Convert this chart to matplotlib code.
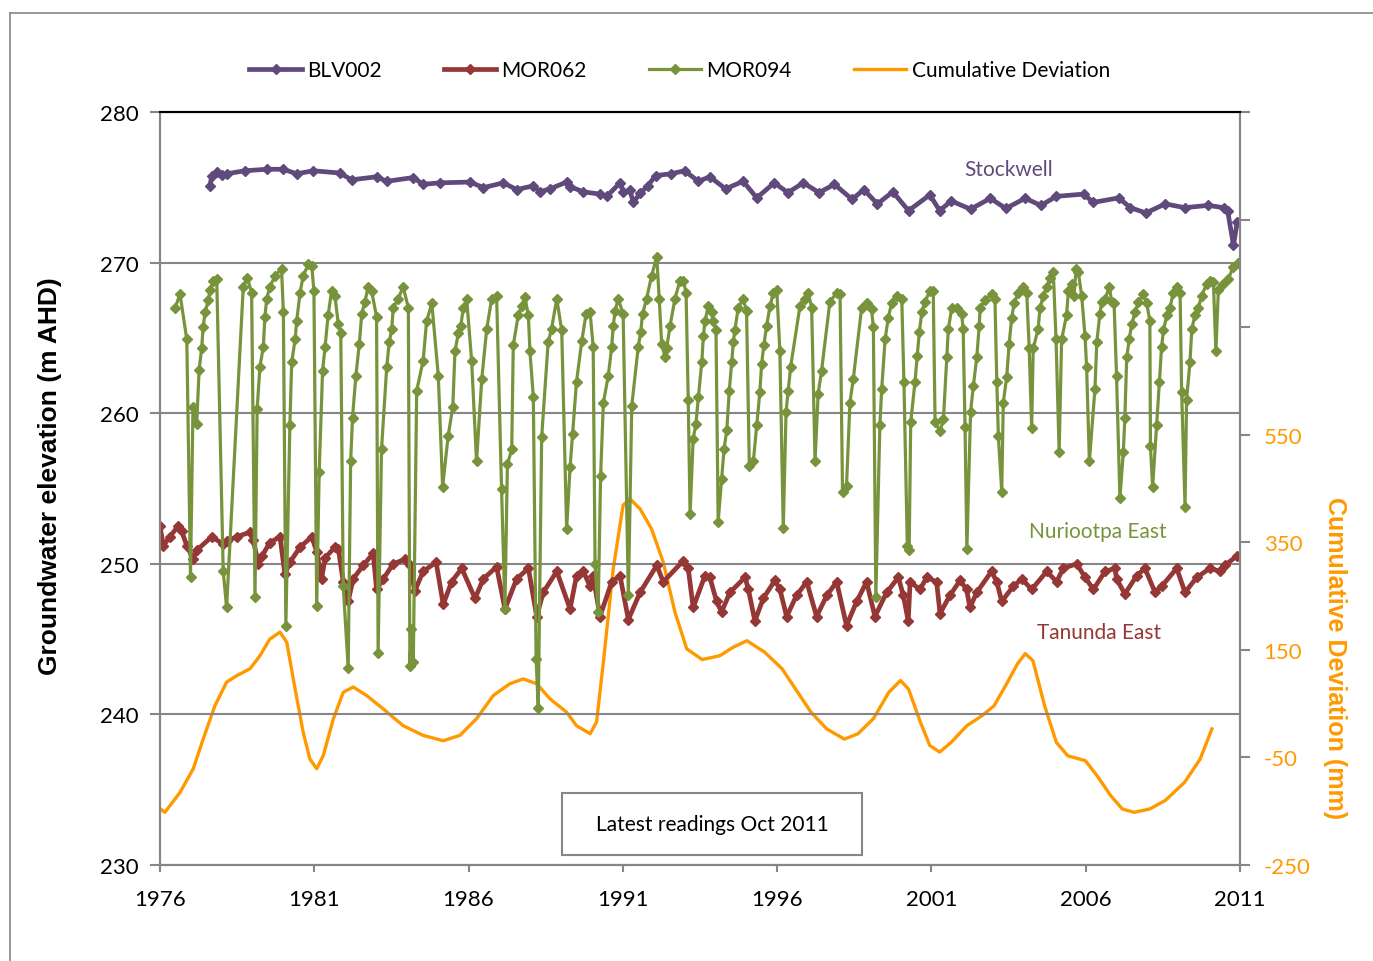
import matplotlib
matplotlib.use("Agg")
import matplotlib.pyplot as plt
from matplotlib.lines import Line2D
from matplotlib.patches import Rectangle

plt.rcParams['font.family'] = ['Lato', 'DejaVu Sans']

# BLV002 - Stockwell
blv_year = [1977.62, 1977.68, 1977.84, 1978.00, 1978.16, 1978.75, 1979.46, 1980.00, 1980.43, 1980.97,
            1981.83, 1982.21, 1983.02, 1983.35, 1984.21, 1984.53, 1985.07, 1986.05, 1986.48, 1987.13,
            1987.56, 1988.10, 1988.31, 1988.64, 1989.18, 1989.29, 1989.72, 1990.26, 1990.48, 1990.91,
            1991.02, 1991.23, 1991.34, 1991.56, 1991.81, 1992.06, 1992.56, 1993.00, 1993.45, 1993.82,
            1994.33, 1994.90, 1995.34, 1995.91, 1996.35, 1996.85, 1997.36, 1997.86, 1998.43, 1998.81,
            1999.25, 1999.75, 2000.26, 2000.95, 2001.27, 2001.64, 2002.27, 2002.91, 2003.41, 2004.04,
            2004.55, 2005.05, 2005.93, 2006.25, 2007.07, 2007.45, 2007.95, 2008.58, 2009.21, 2009.97,
            2010.47, 2010.60, 2010.79, 2010.91]
blv_level = [275.07, 275.78, 276.0, 275.8, 275.9, 276.1, 276.2, 276.2, 275.9, 276.1,
             275.95, 275.5, 275.7, 275.4, 275.65, 275.2, 275.3, 275.35, 274.98, 275.3,
             274.85, 275.1, 274.7, 274.9, 275.35, 275.05, 274.7, 274.55, 274.4, 275.3,
             274.7, 274.8, 274.0, 274.6, 275.1, 275.78, 275.9, 276.1, 275.4, 275.7,
             274.9, 275.4, 274.3, 275.3, 274.65, 275.3, 274.65, 275.2, 274.2, 274.85,
             273.9, 274.7, 273.45, 274.5, 273.45, 274.1, 273.55, 274.27, 273.6, 274.27,
             273.8, 274.4, 274.55, 274.0, 274.3, 273.65, 273.3, 273.9, 273.65, 273.8,
             273.65, 273.45, 271.15, 272.7]

# MOR062 - Tanunda East
mor062_year = [1976.00, 1976.11, 1976.32, 1976.59, 1976.70, 1976.87, 1977.08, 1977.19, 1977.68, 1978.05,
               1978.16, 1978.49, 1978.92, 1979.02, 1979.19, 1979.30, 1979.56, 1979.89, 1980.05, 1980.21,
               1980.54, 1980.92, 1981.08, 1981.24, 1981.35, 1981.67, 1981.78, 1981.94, 1982.10, 1982.26,
               1982.59, 1982.91, 1983.02, 1983.24, 1983.56, 1983.94, 1984.10, 1984.26, 1984.53, 1984.95,
               1985.18, 1985.45, 1985.78, 1986.21, 1986.48, 1986.91, 1987.18, 1987.56, 1987.94, 1988.21,
               1988.42, 1988.86, 1989.29, 1989.50, 1989.72, 1989.94, 1990.04, 1990.26, 1990.64, 1990.91,
               1991.18, 1991.56, 1992.10, 1992.31, 1992.96, 1993.12, 1993.28, 1993.66, 1993.82, 1994.04,
               1994.20, 1994.47, 1994.96, 1995.07, 1995.28, 1995.55, 1995.93, 1996.09, 1996.31, 1996.63,
               1996.96, 1997.28, 1997.61, 1997.93, 1998.25, 1998.58, 1998.90, 1999.17, 1999.55, 1999.93,
               2000.09, 2000.25, 2000.31, 2000.63, 2000.85, 2001.17, 2001.28, 2001.60, 2001.93, 2002.14,
               2002.25, 2002.47, 2002.95, 2003.12, 2003.28, 2003.65, 2003.93, 2004.25, 2004.74, 2005.06,
               2005.27, 2005.71, 2005.98, 2006.25, 2006.63, 2006.95, 2007.00, 2007.27, 2007.65, 2007.92,
               2008.25, 2008.46, 2008.95, 2009.22, 2009.60, 2010.03, 2010.35, 2010.51, 2010.89]
mor062_level = [252.5, 251.2, 251.8, 252.5, 252.2, 251.2, 250.3, 250.9, 251.8, 251.3,
                251.5, 251.8, 252.1, 251.6, 250.0, 250.5, 251.4, 251.8, 249.3, 250.1,
                251.1, 251.8, 250.8, 249.0, 250.4, 251.1, 251.0, 248.8, 247.5, 249.0,
                249.9, 250.7, 248.3, 249.0, 250.0, 250.3, 249.9, 248.2, 249.5, 250.1,
                247.3, 248.8, 249.7, 247.7, 249.0, 249.8, 247.0, 249.0, 249.7, 246.5,
                248.1, 249.5, 247.0, 249.2, 249.5, 248.5, 249.2, 246.5, 248.8, 249.2,
                246.3, 248.1, 249.9, 248.8, 250.2, 249.7, 247.1, 249.2, 249.1, 247.5,
                246.8, 248.1, 249.1, 248.3, 246.2, 247.7, 248.9, 248.3, 246.5, 247.9,
                248.8, 246.5, 247.9, 248.8, 245.9, 247.5, 248.8, 246.5, 248.1, 249.1,
                247.9, 246.2, 248.8, 248.3, 249.1, 248.8, 246.7, 247.9, 248.9, 248.3,
                247.1, 248.1, 249.5, 248.8, 247.5, 248.5, 249.0, 248.3, 249.5, 248.8,
                249.7, 250.0, 249.1, 248.3, 249.5, 249.7, 249.0, 248.0, 249.2, 249.7,
                248.1, 248.5, 249.7, 248.1, 249.1, 249.7, 249.5, 249.9, 250.5]

# MOR094 - Nuriootpa East
mor094_year = [1976.49, 1976.65, 1976.87, 1976.99, 1977.07, 1977.19, 1977.27, 1977.35, 1977.40, 1977.46,
               1977.57, 1977.62, 1977.73, 1977.84, 1978.05, 1978.16, 1978.70, 1978.83, 1978.97, 1979.08,
               1979.15, 1979.24, 1979.35, 1979.40, 1979.46, 1979.56, 1979.73, 1979.94, 1980.00, 1980.08,
               1980.21, 1980.27, 1980.38, 1980.43, 1980.54, 1980.64, 1980.81, 1980.92, 1980.99, 1981.08,
               1981.16, 1981.27, 1981.35, 1981.45, 1981.56, 1981.67, 1981.78, 1981.86, 1981.94, 1982.10,
               1982.18, 1982.24, 1982.35, 1982.46, 1982.54, 1982.64, 1982.75, 1982.86, 1983.02, 1983.07,
               1983.18, 1983.35, 1983.43, 1983.51, 1983.56, 1983.72, 1983.88, 1984.05, 1984.10, 1984.15,
               1984.21, 1984.32, 1984.53, 1984.64, 1984.81, 1985.02, 1985.16, 1985.34, 1985.49, 1985.56,
               1985.67, 1985.75, 1985.83, 1985.94, 1986.10, 1986.26, 1986.43, 1986.59, 1986.75, 1986.91,
               1987.07, 1987.18, 1987.26, 1987.40, 1987.45, 1987.61, 1987.72, 1987.83, 1987.94, 1987.99,
               1988.10, 1988.19, 1988.26, 1988.37, 1988.58, 1988.69, 1988.86, 1989.02, 1989.18, 1989.29,
               1989.37, 1989.50, 1989.67, 1989.81, 1989.94, 1990.04, 1990.10, 1990.20, 1990.28, 1990.37,
               1990.53, 1990.64, 1990.69, 1990.75, 1990.85, 1991.01, 1991.18, 1991.29, 1991.50, 1991.58,
               1991.64, 1991.77, 1991.93, 1992.10, 1992.18, 1992.26, 1992.37, 1992.42, 1992.53, 1992.69,
               1992.85, 1992.96, 1993.05, 1993.12, 1993.18, 1993.28, 1993.37, 1993.45, 1993.56, 1993.61,
               1993.66, 1993.77, 1993.88, 1993.93, 1994.02, 1994.09, 1994.20, 1994.28, 1994.37, 1994.45,
               1994.53, 1994.58, 1994.63, 1994.74, 1994.90, 1995.01, 1995.10, 1995.23, 1995.34, 1995.44,
               1995.50, 1995.57, 1995.66, 1995.77, 1995.88, 1995.99, 1996.09, 1996.20, 1996.29, 1996.36,
               1996.44, 1996.74, 1996.90, 1997.01, 1997.12, 1997.23, 1997.33, 1997.44, 1997.71, 1997.93,
               1998.04, 1998.12, 1998.25, 1998.36, 1998.47, 1998.74, 1998.90, 1999.06, 1999.12, 1999.20,
               1999.33, 1999.39, 1999.50, 1999.60, 1999.71, 1999.87, 2000.04, 2000.11, 2000.22, 2000.28,
               2000.33, 2000.47, 2000.54, 2000.61, 2000.69, 2000.79, 2000.95, 2001.06, 2001.12, 2001.28,
               2001.39, 2001.50, 2001.55, 2001.66, 2001.82, 2001.98, 2002.03, 2002.09, 2002.15, 2002.27,
               2002.36, 2002.47, 2002.55, 2002.58, 2002.74, 2002.95, 2003.06, 2003.12, 2003.17, 2003.28,
               2003.33, 2003.44, 2003.52, 2003.60, 2003.68, 2003.82, 2003.98, 2004.09, 2004.17, 2004.25,
               2004.30, 2004.46, 2004.52, 2004.63, 2004.74, 2004.84, 2004.95, 2005.04, 2005.14, 2005.22,
               2005.38, 2005.44, 2005.55, 2005.62, 2005.69, 2005.76, 2005.87, 2005.98, 2006.03, 2006.12,
               2006.30, 2006.36, 2006.46, 2006.52, 2006.63, 2006.77, 2006.84, 2006.92, 2007.00, 2007.11,
               2007.22, 2007.27, 2007.33, 2007.41, 2007.49, 2007.60, 2007.71, 2007.87, 2007.98, 2008.08,
               2008.10, 2008.17, 2008.30, 2008.39, 2008.46, 2008.52, 2008.63, 2008.73, 2008.84, 2008.95,
               2009.06, 2009.11, 2009.22, 2009.27, 2009.38, 2009.44, 2009.54, 2009.65, 2009.76, 2009.92,
               2010.03, 2010.14, 2010.22, 2010.30, 2010.46, 2010.62, 2010.78, 2010.95]
mor094_level = [267.0, 267.9, 264.9, 249.1, 260.4, 259.3, 262.9, 264.3, 265.7, 266.7,
                267.5, 268.2, 268.8, 268.9, 249.5, 247.1, 268.4, 269.0, 268.0, 247.8,
                260.3, 263.1, 264.4, 266.4, 267.6, 268.4, 269.1, 269.6, 266.7, 245.9,
                259.2, 263.4, 264.9, 266.1, 268.0, 269.1, 269.9, 269.8, 268.1, 247.2,
                256.1, 262.8, 264.4, 266.5, 268.1, 267.8, 265.9, 265.3, 248.5, 243.1,
                256.8, 259.7, 262.5, 264.6, 266.6, 267.4, 268.4, 268.1, 266.4, 244.1,
                257.6, 263.1, 264.7, 265.6, 267.0, 267.6, 268.4, 267.0, 243.2, 245.7,
                243.5, 261.5, 263.5, 266.1, 267.3, 262.5, 255.1, 258.5, 260.4, 264.1,
                265.3, 265.8, 267.0, 267.6, 263.5, 256.8, 262.3, 265.6, 267.6, 267.8,
                255.0, 247.0, 256.6, 257.6, 264.5, 266.5, 267.1, 267.7, 266.5, 264.1,
                261.1, 243.7, 240.4, 258.4, 264.7, 265.6, 267.6, 265.5, 252.3, 256.4,
                258.6, 262.1, 264.8, 266.6, 266.7, 264.4, 250.0, 246.8, 255.8, 260.7,
                262.5, 264.4, 265.8, 266.8, 267.6, 266.6, 247.9, 260.5, 264.4, 265.4,
                266.6, 267.6, 269.1, 270.4, 267.6, 264.6, 263.7, 264.3, 265.8, 267.6,
                268.8, 268.8, 268.0, 260.9, 253.3, 258.3, 259.3, 261.1, 263.4, 265.1,
                266.1, 267.1, 266.7, 266.1, 265.5, 252.8, 255.6, 257.6, 258.9, 261.5,
                263.4, 264.7, 265.5, 267.0, 267.6, 266.8, 256.5, 256.8, 259.2, 261.4,
                263.3, 264.5, 265.8, 267.1, 268.0, 268.2, 264.1, 252.4, 260.1, 261.5,
                263.1, 267.1, 267.6, 268.0, 267.0, 256.8, 261.3, 262.8, 267.4, 268.0,
                267.9, 254.8, 255.2, 260.7, 262.3, 267.0, 267.3, 266.9, 265.7, 247.8,
                259.2, 261.6, 264.9, 266.3, 267.3, 267.8, 267.6, 262.1, 251.2, 250.9,
                259.4, 262.1, 263.8, 265.4, 266.7, 267.4, 268.1, 268.1, 259.4, 258.8,
                259.6, 263.7, 265.6, 267.0, 267.0, 266.6, 265.6, 259.1, 251.0, 260.1,
                261.8, 263.7, 265.8, 267.0, 267.5, 267.9, 267.6, 262.1, 258.5, 254.8,
                260.7, 262.4, 264.6, 266.3, 267.3, 268.0, 268.4, 268.0, 264.3, 259.0,
                264.3, 265.6, 267.0, 267.8, 268.4, 269.0, 269.4, 264.9, 257.4, 264.9,
                266.5, 268.1, 268.6, 267.8, 269.6, 269.4, 267.8, 265.1, 263.1, 256.8,
                261.6, 264.7, 266.6, 267.4, 267.6, 268.4, 267.4, 267.3, 262.5, 254.4,
                257.4, 259.7, 263.7, 264.9, 265.9, 266.7, 267.4, 267.9, 267.3, 266.1,
                257.8, 255.1, 259.2, 262.1, 264.4, 265.5, 266.5, 267.0, 268.0, 268.4,
                268.0, 261.4, 253.8, 260.9, 263.4, 265.6, 266.5, 267.0, 267.8, 268.6,
                268.8, 268.7, 264.1, 268.2, 268.6, 268.9, 269.7, 270.0]

# Cumulative deviation from mean rainfall (mm)
cdev_year = [1976.00, 1976.16, 1976.65, 1977.08, 1977.40, 1977.78, 1978.16, 1978.49, 1978.92, 1979.24,
             1979.56, 1979.89, 1980.11, 1980.32, 1980.64, 1980.86, 1981.08, 1981.29, 1981.62, 1981.94,
             1982.26, 1982.70, 1983.24, 1983.88, 1984.53, 1985.18, 1985.72, 1986.26, 1986.80, 1987.34,
             1987.77, 1988.21, 1988.64, 1989.18, 1989.50, 1989.94, 1990.15, 1990.37, 1990.69, 1991.01,
             1991.23, 1991.56, 1991.93, 1992.31, 1992.69, 1993.07, 1993.57, 1994.14, 1994.58, 1995.02,
             1995.59, 1996.16, 1996.60, 1997.10, 1997.61, 1998.18, 1998.62, 1999.12, 1999.62, 2000.00,
             2000.26, 2000.64, 2000.95, 2001.27, 2001.64, 2002.15, 2002.65, 2003.03, 2003.41, 2003.79,
             2004.04, 2004.29, 2004.67, 2005.05, 2005.42, 2005.99, 2006.37, 2006.81, 2007.19, 2007.57,
             2008.07, 2008.58, 2009.21, 2009.71, 2010.09]
cdev_mm = [-145, -152, -115, -71, -16, 46, 90, 102, 115, 139,
           170, 183, 164, 96, -3, -53, -71, -47, 22, 71,
           81, 65, 40, 9, -9, -19, -9, 22, 65, 87,
           96, 87, 59, 34, 9, -6, 16, 127, 301, 419,
           431, 412, 375, 313, 220, 152, 132, 139, 155, 167,
           146, 115, 77, 34, 3, -16, -6, 22, 71, 93,
           77, 16, -28, -40, -22, 9, 28, 46, 84, 124,
           143, 130, 46, -22, -47, -56, -84, -121, -146, -152,
           -146, -130, -96, -53, 3]

year_ticks = [1976, 1981, 1986, 1991, 1996, 2001, 2006, 2011]
dev_ticks = [-250, -50, 150, 350, 550, 750, 950, 1150]
dev_labels = ['-250', '-50', '150', '350', '550', '', '', '']

purple = '#604A7B'
red = '#953735'
green = '#77933C'
orange = '#FF9900'
gray = '#868686'

fig = plt.figure(figsize=(13.73, 9.62), dpi=100)
ax = fig.add_axes([0.1165, 0.0998, 0.7866, 0.7827])
ax2 = ax.twinx()
ax.set_zorder(ax2.get_zorder() + 1)
ax.patch.set_visible(False)

l1, = ax.plot(blv_year, blv_level, color=purple, lw=3.4, marker='D', ms=5, label='BLV002')
l2, = ax.plot(mor062_year, mor062_level, color=red, lw=3.4, marker='D', ms=5, label='MOR062')
l3, = ax.plot(mor094_year, mor094_level, color=green, lw=2.3, marker='D', ms=5, label='MOR094')
l4, = ax2.plot(cdev_year, cdev_mm, color=orange, lw=2.4, label='Cumulative Deviation')

ax.set_xlim(1976, 2011)
ax.set_ylim(230, 280)
ax2.set_ylim(-250, 1150)
ax.set_xticks(year_ticks)
ax.set_yticks([230, 240, 250, 260, 270, 280])
ax2.set_yticks(dev_ticks)
ax2.set_yticklabels(dev_labels)

ax.grid(axis='y', color=gray, lw=1.5)
ax.set_axisbelow(True)
for a in (ax, ax2):
    for s in a.spines.values():
        s.set_color(gray)
        s.set_linewidth(1.5)
    a.spines['top'].set_color('black')

ax.tick_params(axis='both', labelsize=16, color=gray, width=1.5, length=7, pad=8)
ax.tick_params(axis='x', length=5, pad=12)
ax2.tick_params(axis='y', labelsize=16, colors=orange, width=1.5, length=7, pad=10)
ax2.tick_params(axis='y', color=gray)

label_font = ['Liberation Sans', 'DejaVu Sans']
ax.set_ylabel('Groundwater elevation (m AHD)', fontsize=19, fontweight='bold', family=label_font)
ax.yaxis.set_label_coords(-0.091, 0.518)
ax2.set_ylabel('Cumulative Deviation (mm)', fontsize=18, fontweight='bold', color=orange,
               rotation=270, family=label_font)
ax2.yaxis.set_label_coords(1.099, 0.276)

ax.text(2003.5, 276.2, 'Stockwell', color=purple, fontsize=15, ha='center', va='center')
ax.text(2006.4, 252.2, 'Nuriootpa East', color=green, fontsize=15, ha='center', va='center')
ax.text(2006.45, 245.45, 'Tanunda East', color=red, fontsize=15, ha='center', va='center')

ax.add_patch(Rectangle((0.3722, 0.0133), 0.2778, 0.0823, transform=ax.transAxes,
                       facecolor='white', edgecolor=gray, lw=1.5, zorder=5))
ax.text(0.5111, 0.0545, 'Latest readings Oct 2011', transform=ax.transAxes, fontsize=15,
        ha='center', va='center', zorder=6)

fig.legend(handles=[l1, l2, l3, l4], loc='center', bbox_to_anchor=(0.495, 0.926), ncol=4,
           frameon=False, fontsize=15, handlelength=2.5, handletextpad=0.25, columnspacing=3.0)

# outer chart border
fig.add_artist(Line2D([0.0073, 0.0073], [0.0, 0.9854], color=gray, lw=1.2))
fig.add_artist(Line2D([0.0073, 1.0], [0.9854, 0.9854], color=gray, lw=1.2))

fig.savefig('out.png', dpi=100)
